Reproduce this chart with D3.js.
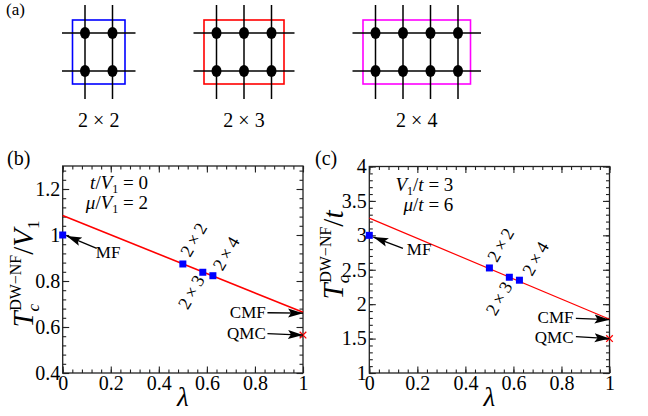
<!DOCTYPE html>
<html>
<head>
<meta charset="utf-8">
<script src="https://cdn.jsdelivr.net/npm/d3@7"></script>
<style>
  body { margin: 0; background: #fff; }
  svg text { font-family: "Liberation Serif", "Times New Roman", serif; }
</style>
</head>
<body>
<div id="chart"></div>
<script>
// ---- data ----
// (a) cluster sketches
var clusterCols = [2, 3, 4];
var clusterColors = ["#0000ff", "#ff0000", "#ff00ff"];
var clusterLabels = ["2 \u00d7 2", "2 \u00d7 3", "2 \u00d7 4"];

// shared lambda axis
var lambdaTicks = [0, 0.2, 0.4, 0.6, 0.8, 1];
var sizeNames = ["MF", "2\u2009\u00d7\u20092", "2\u2009\u00d7\u20093", "2\u2009\u00d7\u20094"];

// (b) t/V1 = 0, mu/V1 = 2
var bLambda = [0, 0.5, 0.583, 0.625];
var bTc = [1.0, 0.874, 0.838, 0.823];
var bFitLambda = [0, 1];
var bFitTc = [1.085, 0.664];
var bQmcLambda = [1];
var bQmcTc = [0.565];
var bYTicks = [0.4, 0.6, 0.8, 1, 1.2];

// (c) V1/t = 3, mu/t = 6
var cLambda = [0, 0.5, 0.583, 0.625];
var cTc = [3.0, 2.526, 2.391, 2.348];
var cFitLambda = [0, 1];
var cFitTc = [3.25, 1.78];
var cQmcLambda = [1];
var cQmcTc = [1.5];
var cYTicks = [1, 1.5, 2, 2.5, 3, 3.5, 4];

var svg = d3.select("#chart").append("svg")
    .attr("width", 648)
    .attr("height", 416);

var defs = svg.append("defs");
defs.append("marker")
    .attr("id", "head")
    .attr("viewBox", "0 -5 15 10")
    .attr("refX", 15)
    .attr("refY", 0)
    .attr("markerUnits", "userSpaceOnUse")
    .attr("markerWidth", 15)
    .attr("markerHeight", 10)
    .attr("orient", "auto")
    .append("path")
    .attr("d", "M0,-4.5L15,0L0,4.5L3,0Z")
    .attr("fill", "#000");

// text with sub/superscripts
function rich(sel, parts) {
    parts.forEach(function (p) {
        var ts = sel.append("tspan").text(p.t);
        if (p.i) ts.style("font-style", "italic");
        if (p.s) ts.style("font-size", p.s + "px");
        if (p.dx) ts.attr("dx", p.dx);
        if (p.dy) ts.attr("dy", p.dy);
    });
    return sel;
}

// ---- panel (a) ----
svg.append("text").attr("x", 6).attr("y", 15)
    .style("font-size", "17px").text("(a)");

var sx = 27.5, over = 23, gap = 58, rowY = [33, 71];
var startX = 62;
clusterCols.forEach(function (n, k) {
    var g = svg.append("g");
    var cols = d3.range(n).map(function (i) { return startX + over + i * sx; });
    var x0 = startX, x1 = cols[n - 1] + over;
    g.append("rect")
        .attr("x", cols[0] - 12.5).attr("y", rowY[0] - 13)
        .attr("width", cols[n - 1] - cols[0] + 25).attr("height", rowY[1] - rowY[0] + 26)
        .attr("fill", "none").attr("stroke", clusterColors[k]).attr("stroke-width", 1.6);
    cols.forEach(function (cx) {
        g.append("line").attr("x1", cx).attr("x2", cx)
            .attr("y1", rowY[0] - 28).attr("y2", rowY[1] + 28)
            .attr("stroke", "#000").attr("stroke-width", 1.5);
    });
    rowY.forEach(function (ry) {
        g.append("line").attr("x1", x0).attr("x2", x1)
            .attr("y1", ry).attr("y2", ry)
            .attr("stroke", "#000").attr("stroke-width", 1.5);
        cols.forEach(function (cx) {
            g.append("ellipse").attr("cx", cx).attr("cy", ry)
                .attr("rx", 5).attr("ry", 6).attr("fill", "#000");
        });
    });
    g.append("text").attr("x", d3.mean(cols)).attr("y", 127)
        .attr("text-anchor", "middle").style("font-size", "20px")
        .text(clusterLabels[k]);
    startX = x1 + gap;
});

// ---- panels (b) and (c) ----
var panels = [
    {
        tag: "(b)", tagX: 7,
        left: 62.7, right: 303, top: 166, bottom: 373,
        yDomain: [0.4, 1.3], yTicks: bYTicks, yMinor: 0.04,
        lam: bLambda, tc: bTc, fitL: bFitLambda, fitT: bFitTc,
        qL: bQmcLambda, qT: bQmcTc, fitW: 1.6,
        params: [
            [{t: "t", i: true}, {t: "/"}, {t: "V", i: true}, {t: "1", s: 12, dy: 4}, {t: " = 0", dy: -4}],
            [{t: "\u03bc", i: true}, {t: "/"}, {t: "V", i: true}, {t: "1", s: 12, dy: 4}, {t: " = 2", dy: -4}]
        ],
        paramX: [0.355, 0.355], paramY: [1.2, 1.113],
        yLab: [{t: "T", i: true}, {t: "c", i: true, s: 17, dy: 6}, {t: "DW\u2212NF", s: 16, dx: -7, dy: -18},
               {t: "/", dy: 12}, {t: "V", i: true}, {t: "1", s: 17, dy: 6}],
        yLabX: 33, yLabY: 274,
        arrows: [
            {txt: "MF", tail: [0.1415, 0.942], tip: [0.0166, 0.996], at: [0.138, 0.9], anchor: "start"},
            {txt: "CMF", tail: [0.852, 0.662], tip: [1, 0.66], at: [0.845, 0.64], anchor: "end"},
            {txt: "QMC", tail: [0.852, 0.571], tip: [1, 0.565], at: [0.845, 0.546], anchor: "end"}
        ],
        sizeAt: [[0.53, 0.9], [0.52, 0.672], [0.665, 0.84]]
    },
    {
        tag: "(c)", tagX: 315,
        left: 369.3, right: 609.5, top: 166.5, bottom: 373,
        yDomain: [1, 4], yTicks: cYTicks, yMinor: 0.1,
        lam: cLambda, tc: cTc, fitL: cFitLambda, fitT: cFitTc,
        qL: cQmcLambda, qT: cQmcTc, fitW: 1.2,
        params: [
            [{t: "V", i: true}, {t: "1", s: 12, dy: 4}, {t: "/", dy: -4}, {t: "t", i: true}, {t: " = 3"}],
            [{t: "\u03bc", i: true}, {t: "/"}, {t: "t", i: true}, {t: " = 6"}]
        ],
        paramX: [0.35, 0.35], paramY: [3.65, 3.36],
        yLab: [{t: "T", i: true}, {t: "c", i: true, s: 17, dy: 6}, {t: "DW\u2212NF", s: 16, dx: -7, dy: -18},
               {t: "/", dy: 12}, {t: "t", i: true}],
        yLabX: 343, yLabY: 255,
        arrows: [
            {txt: "MF", tail: [0.14, 2.81], tip: [0.0166, 2.975], at: [0.156, 2.71], anchor: "start"},
            {txt: "CMF", tail: [0.86, 1.795], tip: [1, 1.775], at: [0.85, 1.73], anchor: "end"},
            {txt: "QMC", tail: [0.86, 1.527], tip: [1, 1.5], at: [0.85, 1.44], anchor: "end"}
        ],
        sizeAt: [[0.532, 2.594], [0.525, 1.816], [0.677, 2.396]]
    }
];

var fmt = d3.format("~g");

panels.forEach(function (p) {
    var x = d3.scaleLinear().domain([0, 1]).range([p.left, p.right]);
    var y = d3.scaleLinear().domain(p.yDomain).range([p.bottom, p.top]);
    var g = svg.append("g");
    var xMinor = d3.range(0, 1.0001, 0.04);
    var yMinor = d3.range(p.yDomain[0], p.yDomain[1] + 1e-6, p.yMinor);

    function axisSet(axisFn, scale, tr, major, minor, labels) {
        var a = g.append("g").attr("transform", tr)
            .call(axisFn(scale).tickValues(major).tickSizeInner(-6.5).tickSizeOuter(0)
                .tickPadding(axisFn === d3.axisLeft ? 2.5 : 3)
                .tickFormat(labels ? fmt : ""));
        a.select(".domain").remove();
        a.attr("font-family", null).attr("font-size", null);
        var m = g.append("g").attr("transform", tr)
            .call(axisFn(scale).tickValues(minor).tickSizeInner(-3.5).tickSizeOuter(0).tickFormat(""));
        m.select(".domain").remove();
        a.selectAll("text").style("font-size", "20px").attr("fill", "#000");
        g.selectAll(".tick line").attr("stroke", "#222").attr("stroke-width", 1.1);
    }
    axisSet(d3.axisBottom, x, "translate(0," + p.bottom + ")", lambdaTicks, xMinor, true);
    axisSet(d3.axisTop, x, "translate(0," + p.top + ")", lambdaTicks, xMinor, false);
    axisSet(d3.axisLeft, y, "translate(" + p.left + ",0)", p.yTicks, yMinor, true);
    axisSet(d3.axisRight, y, "translate(" + p.right + ",0)", p.yTicks, yMinor, false);

    g.append("rect").attr("x", p.left).attr("y", p.top)
        .attr("width", p.right - p.left).attr("height", p.bottom - p.top)
        .attr("fill", "none").attr("stroke", "#222").attr("stroke-width", 1.3);

    // fit line
    var line = d3.line().x(function (d) { return x(d[0]); }).y(function (d) { return y(d[1]); });
    g.append("path").datum(d3.zip(p.fitL, p.fitT)).attr("d", line)
        .attr("fill", "none").attr("stroke", "#ff0000").attr("stroke-width", p.fitW);

    // cluster results
    g.selectAll(".pt").data(d3.zip(p.lam, p.tc)).enter().append("rect")
        .attr("class", "pt")
        .attr("x", function (d) { return x(d[0]) - 3.5; })
        .attr("y", function (d) { return y(d[1]) - 3.5; })
        .attr("width", 7).attr("height", 7)
        .attr("fill", "#0000ff");

    // QMC cross
    d3.zip(p.qL, p.qT).forEach(function (d) {
        g.append("path").attr("d", d3.symbol(d3.symbolX, 30)())
            .attr("transform", "translate(" + x(d[0]) + "," + y(d[1]) + ")")
            .attr("stroke", "#ff0000").attr("stroke-width", 1.3).attr("fill", "none");
    });

    // arrows and their labels
    p.arrows.forEach(function (a) {
        g.append("line")
            .attr("x1", x(a.tail[0])).attr("y1", y(a.tail[1]))
            .attr("x2", x(a.tip[0])).attr("y2", y(a.tip[1]))
            .attr("stroke", "#000").attr("stroke-width", 1.3)
            .attr("marker-end", "url(#head)");
        g.append("text").attr("x", x(a.at[0])).attr("y", y(a.at[1]))
            .attr("text-anchor", a.anchor).style("font-size", "17px").text(a.txt);
    });

    // cluster size labels, rotated
    p.sizeAt.forEach(function (s, i) {
        g.append("text")
            .attr("transform", "translate(" + x(s[0]) + "," + y(s[1]) + ") rotate(-60)")
            .style("font-size", "18px").text(sizeNames[i + 1]);
    });

    // parameter box
    p.params.forEach(function (parts, i) {
        rich(g.append("text").attr("x", x(p.paramX[i])).attr("y", y(p.paramY[i]))
            .attr("text-anchor", "end").style("font-size", "19px"), parts);
    });

    // axis titles
    g.append("text").attr("x", (p.left + p.right) / 2).attr("y", 406)
        .attr("text-anchor", "middle").style("font-size", "27px").style("font-style", "italic")
        .text("\u03bb");
    rich(g.append("text")
        .attr("transform", "translate(" + p.yLabX + "," + p.yLabY + ") rotate(-90)")
        .attr("text-anchor", "middle").style("font-size", "29px"), p.yLab);

    svg.append("text").attr("x", p.tagX).attr("y", 165)
        .style("font-size", "20px").text(p.tag);
});
</script>
</body>
</html>
